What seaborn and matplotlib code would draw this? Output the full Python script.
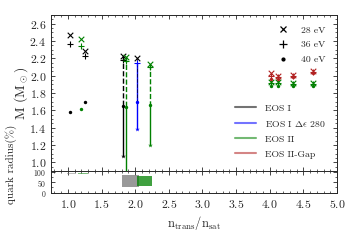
import numpy as np
import pandas as pd
import matplotlib
matplotlib.use("Agg")
import matplotlib.pyplot as plt
from matplotlib.lines import Line2D
import seaborn as sns

sns.set_style("ticks")
plt.rcParams['font.family'] = ['cmr10', 'DejaVu Serif']
plt.rcParams['mathtext.fontset'] = 'cm'
plt.rcParams['axes.formatter.use_mathtext'] = True
plt.rcParams['axes.unicode_minus'] = False

# ---- data ----
eos_names = ["EOS I", "EOS I $\\Delta\\epsilon$ 280", "EOS II", "EOS II-Gap"]
eos_colors = ["black", "blue", "green", "firebrick"]

# EOS I
e1_x = [1.03, 1.26, 1.82]
e1_m28 = [2.47, 2.29, 2.23]
e1_m36 = [2.37, 2.23, 2.18]
e1_m40 = [1.58, 1.70, 1.65]
# EOS I de 280
e2_x = [2.02]
e2_m28 = [2.20]
e2_m36 = [2.15]
e2_m40 = [1.70]
# EOS II
e3_x = [1.20, 1.86, 2.22, 4.02, 4.12, 4.35, 4.64]
e3_m28 = [2.42, 2.21, 2.14, 1.93, 1.93, 1.92, 1.92]
e3_m36 = [2.34, 2.17, 2.10, 1.91, 1.91, 1.90, 1.90]
e3_m40 = [1.61, 1.64, 1.66, 1.88, 1.88, 1.88, 1.88]
# EOS II-Gap
e4_x = [4.02, 4.12, 4.35, 4.64]
e4_m28 = [2.03, 2.00, 2.01, 2.05]
e4_m36 = [2.00, 1.98, 2.00, 2.04]
e4_m40 = [1.96, 1.96, 1.99, 2.03]

# minimum hybrid mass on the stable branch
br_x = [1.82, 2.02, 1.86, 2.22]
br_top = [2.23, 2.15, 2.21, 2.14]
br_mid = [1.65, 2.15, 1.64, 1.66]
br_min = [1.07, 1.38, 0.80, 1.20]
br_col = ["black", "blue", "green", "green"]

# quark radius (%) ranges
qr_xlo = [0.98, 1.15, 1.80, 2.02, 3.95, 4.30, 4.58]
qr_xhi = [1.10, 1.30, 2.05, 2.25, 4.17, 4.40, 4.68]
qr_lo = [90, 88, 28, 30, 1, 1, 1]
qr_hi = [96, 95, 84, 82, 4, 4, 4]
qr_col = ["gray", "green", "gray", "green", "green", "green", "green"]
qr_alpha = [0.5, 0.5, 0.8, 0.75, 0.8, 0.8, 0.8]

# ---- figure ----
fig = plt.figure(figsize=(3.6, 2.4), dpi=100)
ax = fig.add_axes([0.142, 0.2875, 0.794, 0.65])
ax2 = fig.add_axes([0.142, 0.196, 0.794, 0.0915], sharex=ax)

# branch lines
for x, t, m, b, c in zip(br_x, br_top, br_mid, br_min, br_col):
    if t != m:
        ax.plot([x, x], [t, m], ls="--", color=c, lw=1.0, zorder=2)
    ax.plot([x, x], [m, b], ls="-", color=c, lw=1.0, zorder=2)
    ax.scatter([x], [b], marker="*", color=c, s=12, zorder=3, linewidths=0)
ax.plot([2.02, 2.02], [2.20, 1.70], ls="--", color="black", lw=0.7,
        alpha=0.6, zorder=3)

sets = [(e1_x, e1_m28, e1_m36, e1_m40, "black"),
        (e2_x, e2_m28, e2_m36, e2_m40, "blue"),
        (e3_x, e3_m28, e3_m36, e3_m40, "green"),
        (e4_x, e4_m28, e4_m36, e4_m40, "firebrick")]
for xs, a, b, c, col in sets:
    df = pd.DataFrame({"x": xs, "m28": a, "m36": b, "m40": c})
    c28 = "black" if col == "blue" else col
    sns.scatterplot(data=df, x="x", y="m28", marker="x", color=c28, s=16,
                    linewidth=0.8, ax=ax, zorder=4)
    sns.scatterplot(data=df, x="x", y="m36", marker="+", color=col, s=18,
                    linewidth=0.8, ax=ax, zorder=4)
    sns.scatterplot(data=df, x="x", y="m40", marker="o", color=col, s=6,
                    linewidth=0, ax=ax, zorder=4)

ax.set_xlim(0.75, 5.0)
ax.set_ylim(0.9, 2.7)
ax.set_yticks(np.arange(1.0, 2.61, 0.2))
ax.set_yticks(np.arange(0.9, 2.71, 0.05), minor=True)
ax.set_xticks(np.arange(1.0, 5.01, 0.5))
ax.set_xticks(np.arange(0.8, 5.01, 0.1), minor=True)
ax.set_xlabel("")
ax.set_ylabel("")
fig.text(0.058, 0.612, r"M (M$_\odot$)", fontsize=10, rotation=90,
         ha="center", va="center")
ax.tick_params(which="both", direction="in", top=True, right=True, labelsize=8.5)
ax.tick_params(which="major", length=3, width=0.6)
ax.tick_params(which="minor", length=1.5, width=0.5)
ax.tick_params(axis="x", labelbottom=False)
for s in ax.spines.values():
    s.set_linewidth(0.7)

# legends
mk = [Line2D([], [], marker="x", color="black", ls="none", ms=5, mew=0.9),
      Line2D([], [], marker="+", color="black", ls="none", ms=6, mew=0.9),
      Line2D([], [], marker="o", color="black", ls="none", ms=2)]
leg1 = ax.legend(mk, ["28 eV", "36 eV", "40 eV"], loc="upper right",
                 bbox_to_anchor=(0.975, 0.955),
                 frameon=False, fontsize=7, handlelength=1.0,
                 borderaxespad=0.0, labelspacing=0.6, handletextpad=1.4)
ax.add_artist(leg1)
ln = [Line2D([], [], color=c, lw=1.5, alpha=0.55) for c in eos_colors]
ax.legend(ln, eos_names, loc="lower right", bbox_to_anchor=(0.975, 0.055),
          frameon=False, fontsize=7,
          handlelength=2.2, labelspacing=0.62, borderaxespad=0.0,
          handletextpad=0.9)

# quark radius panel
for xl, xh, lo, hi, c, al in zip(qr_xlo, qr_xhi, qr_lo, qr_hi, qr_col, qr_alpha):
    ax2.fill_between([xl, xh], [lo, lo], [hi, hi], color=c, alpha=al,
                     linewidth=0)
ax2.set_ylim(-2, 104)
ax2.set_yticks([0, 50, 100])
ax2.set_yticks(np.arange(0, 101, 25), minor=True)
ax2.tick_params(which="both", direction="in", top=True, right=True)
ax2.tick_params(axis="y", labelsize=5.5)
ax2.tick_params(axis="x", labelsize=8.5)
ax2.tick_params(which="major", length=3, width=0.6)
ax2.tick_params(which="minor", length=1.5, width=0.5)
for s in ax2.spines.values():
    s.set_linewidth(0.7)
ax2.set_ylabel("")
fig.text(0.03, 0.315, "quark radius(%)", fontsize=8, rotation=90,
         ha="center", va="center")
ax2.set_xlabel(r"n$_{\rm trans}$/n$_{\rm sat}$", fontsize=9, labelpad=3)

fig.savefig("out.png", dpi=100)
